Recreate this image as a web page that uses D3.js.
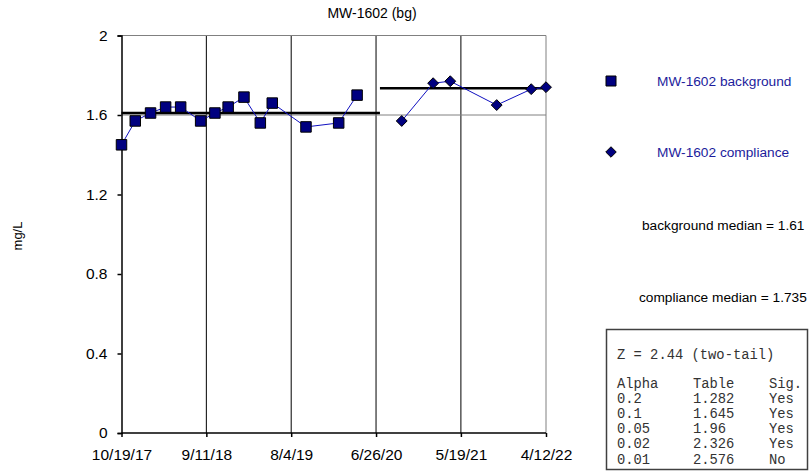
<!DOCTYPE html>
<html><head><meta charset="utf-8">
<script src="https://cdn.jsdelivr.net/npm/d3@7"></script>
<style>body{margin:0;background:#fff}svg{display:block}</style>
</head><body>
<svg id="c" width="810" height="473"></svg>
<script>
const title = "MW-1602 (bg)";
const yLabel = "mg/L";
const bgDates = ["2017-10-19","2017-12-11","2018-02-08","2018-04-07","2018-06-04","2018-08-20","2018-10-14","2018-12-04","2019-02-03","2019-04-07","2019-05-23","2019-09-30","2020-02-03","2020-04-14"];
const bgValues = [1.45,1.57,1.61,1.64,1.64,1.57,1.61,1.64,1.69,1.56,1.66,1.54,1.56,1.70];
const compDates = ["2020-10-03","2021-02-01","2021-04-08","2021-10-04","2022-02-14","2022-04-12"];
const compValues = [1.57,1.76,1.77,1.65,1.73,1.74];
const bgMedian = 1.61;
const compMedian = 1.735;
const splitDate = "2020-07-11";
const xTickLabels = ["10/19/17","9/11/18","8/4/19","6/26/20","5/19/21","4/12/22"];
const yTicks = [0,0.4,0.8,1.2,1.6,2];
const yGrid = [1.6];
const legendLabels = ["MW-1602 background","MW-1602 compliance"];
const medianLabels = ["background median = 1.61","compliance median = 1.735"];
const statsHeader = "Z = 2.44 (two-tail)";
const statsCols = ["Alpha","Table","Sig."];
const statsAlpha = ["0.2","0.1","0.05","0.02","0.01"];
const statsTable = ["1.282","1.645","1.96","2.326","2.576"];
const statsSig = ["Yes","Yes","Yes","Yes","No"];

const FONT = "Arial, 'Liberation Sans', sans-serif";
const parse = d3.timeParse("%m/%d/%y");
const parseIso = d3.timeParse("%Y-%m-%d");
const svg = d3.select("#c");
const L = 121.5, R = 546, T = 35.5, B = 433;
const x = d3.scaleTime().domain([parse(xTickLabels[0]), parse(xTickLabels[xTickLabels.length-1])]).range([L, R]);
const y = d3.scaleLinear().domain([0, 2]).range([B, T]);
const tickDates = xTickLabels.map(parse);

// grid
const g = svg.append("g");
g.selectAll("line.vg").data(tickDates.slice(1)).join("line")
  .attr("x1", d => x(d)).attr("x2", d => x(d)).attr("y1", T).attr("y2", B)
  .attr("stroke", (d,i) => i === tickDates.length-2 ? "#808080" : "#000").attr("stroke-width", 1);
g.append("line").attr("x1", L).attr("x2", R).attr("y1", y(2)).attr("y2", y(2)).attr("stroke", "#808080");
g.selectAll("line.hg").data(yGrid).join("line")
  .attr("x1", L).attr("x2", R).attr("y1", d => y(d)).attr("y2", d => y(d)).attr("stroke", "#808080");

// axes
const yAxis = d3.axisLeft(y).tickValues(yTicks).tickFormat(d3.format("")).tickSize(4).tickPadding(10);
const ya = svg.append("g").attr("transform", `translate(${L},0)`).call(yAxis);
const xAxis = d3.axisBottom(x).tickValues(tickDates).tickFormat((d,i) => xTickLabels[i]).tickSize(4).tickPadding(12);
const xa = svg.append("g").attr("transform", `translate(0,${B})`).call(xAxis);
[ya, xa].forEach(a => {
  a.select(".domain").attr("stroke", "#000").attr("stroke-width", 1.5);
  a.selectAll(".tick line").attr("stroke", "#000").attr("stroke-width", 1.5);
  a.selectAll("text").attr("font-family", FONT).attr("font-size", 15.5).attr("fill", "#000");
});
xa.select(".domain").attr("d", `M${L},0H${R}`);

// medians
svg.append("line").attr("x1", L).attr("x2", x(parseIso(splitDate))).attr("y1", y(bgMedian)).attr("y2", y(bgMedian))
  .attr("stroke", "#000").attr("stroke-width", 2.5);
svg.append("line").attr("x1", x(parseIso(splitDate))).attr("x2", R).attr("y1", y(compMedian)).attr("y2", y(compMedian))
  .attr("stroke", "#000").attr("stroke-width", 2.5);

// series
const bg = bgDates.map((d,i) => ({d: parseIso(d), v: bgValues[i]}));
const cp = compDates.map((d,i) => ({d: parseIso(d), v: compValues[i]}));
const line = d3.line().x(p => x(p.d)).y(p => y(p.v));
svg.append("path").attr("d", line(bg)).attr("fill", "none").attr("stroke", "#1010c0").attr("stroke-width", 1);
svg.append("path").attr("d", line(cp)).attr("fill", "none").attr("stroke", "#1010c0").attr("stroke-width", 1);
const sq = d3.symbol().type(d3.symbolSquare).size(110);
const dm = d3.symbol().type(d3.symbolDiamond2).size(75);
svg.selectAll("path.bgp").data(bg).join("path").attr("d", sq)
  .attr("transform", p => `translate(${x(p.d)},${y(p.v)})`).attr("fill", "#000080").attr("stroke", "#000").attr("stroke-width", 1);
svg.selectAll("path.cpp").data(cp).join("path").attr("d", dm)
  .attr("transform", p => `translate(${x(p.d)},${y(p.v)})`).attr("fill", "#000080").attr("stroke", "#000").attr("stroke-width", 1);

// title & y label
svg.append("text").attr("x", 372).attr("y", 18).attr("text-anchor", "middle")
  .attr("font-family", FONT).attr("font-size", 14).text(title);
svg.append("text").attr("transform", "translate(22,236) rotate(-90)").attr("text-anchor", "middle")
  .attr("font-family", FONT).attr("font-size", 13).text(yLabel);

// legend
const lg = svg.append("g").attr("font-family", FONT).attr("font-size", 13.7);
lg.append("path").attr("d", d3.symbol().type(d3.symbolSquare).size(100)).attr("transform", "translate(611,81)")
  .attr("fill", "#000080").attr("stroke", "#000");
lg.append("path").attr("d", d3.symbol().type(d3.symbolDiamond2).size(70)).attr("transform", "translate(611,152)")
  .attr("fill", "#000080").attr("stroke", "#000");
lg.selectAll("text.l").data(legendLabels).join("text").attr("x", 657).attr("y", (d,i) => i ? 157 : 86)
  .attr("fill", "#1c1c9c").text(d => d);
lg.selectAll("text.m").data(medianLabels).join("text").attr("x", (d,i) => i ? 639 : 642).attr("y", (d,i) => i ? 302 : 230)
  .attr("fill", "#000").text(d => d);

// stats box
const sb = svg.append("g").attr("font-family", "'Liberation Mono', 'Courier New', monospace").attr("font-size", 13.8).attr("fill", "#333");
sb.append("rect").attr("x", 606.5).attr("y", 329.5).attr("width", 201).attr("height", 140)
  .attr("fill", "#fff").attr("stroke", "#404040").attr("stroke-width", 1.5);
sb.append("text").attr("x", 617).attr("y", 359).text(statsHeader);
const colX = [617, 693, 769];
const rowY0 = 388, rowStep = 15.1;
statsCols.forEach((c,j) => sb.append("text").attr("x", colX[j]).attr("y", rowY0).text(c));
statsAlpha.forEach((a,i) => {
  const yy = rowY0 + (i+1)*rowStep;
  sb.append("text").attr("x", colX[0]).attr("y", yy).text(a);
  sb.append("text").attr("x", colX[1]).attr("y", yy).text(statsTable[i]);
  sb.append("text").attr("x", colX[2]).attr("y", yy).text(statsSig[i]);
});
</script>
</body></html>
